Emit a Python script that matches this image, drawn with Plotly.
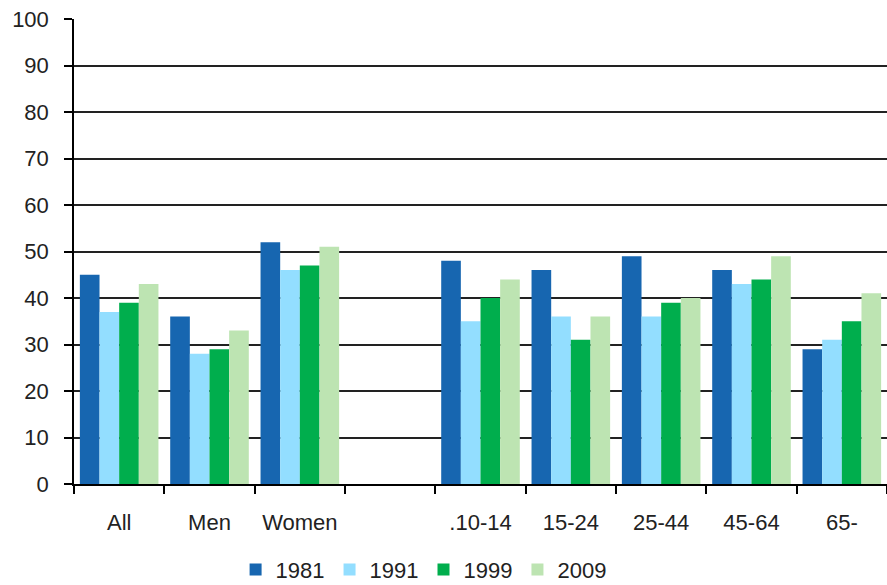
import plotly.graph_objects as go

# Share (%) by group, four survey years
categories = ["All", "Men", "Women", " ", ".10-14", "15-24", "25-44", "45-64", "65-"]
years = ["1981", "1991", "1999", "2009"]
v1981 = [45, 36, 52, None, 48, 46, 49, 46, 29]
v1991 = [37, 28, 46, None, 35, 36, 36, 43, 31]
v1999 = [39, 29, 47, None, 40, 31, 39, 44, 35]
v2009 = [43, 33, 51, None, 44, 36, 40, 49, 41]
colors = ["#1766B0", "#93DEFF", "#00AE4D", "#BDE4B2"]

fig = go.Figure()
for name, vals, col in zip(years, [v1981, v1991, v1999, v2009], colors):
    fig.add_trace(go.Bar(
        x=categories, y=vals, name=name,
        marker=dict(color=col, line=dict(width=0)),
    ))

font = dict(family="Liberation Sans, Arial, sans-serif", size=22, color="#222")

fig.update_layout(
    width=887, height=585,
    margin=dict(l=74, r=0, t=19, b=101, autoexpand=False),
    paper_bgcolor="white", plot_bgcolor="white",
    barmode="group", bargap=0.13, bargroupgap=0,
    font=font,
    showlegend=True,
    legend=dict(orientation="h", x=0.43, xanchor="center",
                yref="container", y=0.026, yanchor="middle",
                font=dict(size=22), itemwidth=30, traceorder="normal"),
    xaxis=dict(
        type="category", showline=True, linecolor="black", linewidth=1.5,
        ticks="outside", tickson="boundaries", ticklen=8, tickcolor="black",
        tickwidth=1.5, showgrid=False, tickfont=font, ticklabelstandoff=18,
        automargin=False,
    ),
    yaxis=dict(
        range=[0, 100], dtick=10, showline=True, linecolor="black", linewidth=1.5,
        ticks="outside", ticklen=8, tickcolor="black", tickwidth=1.5,
        showgrid=True, gridcolor="#222", gridwidth=1.5, zeroline=False,
        tickfont=font, ticklabelstandoff=11, automargin=False,
    ),
)

fig.write_html("out.html")
